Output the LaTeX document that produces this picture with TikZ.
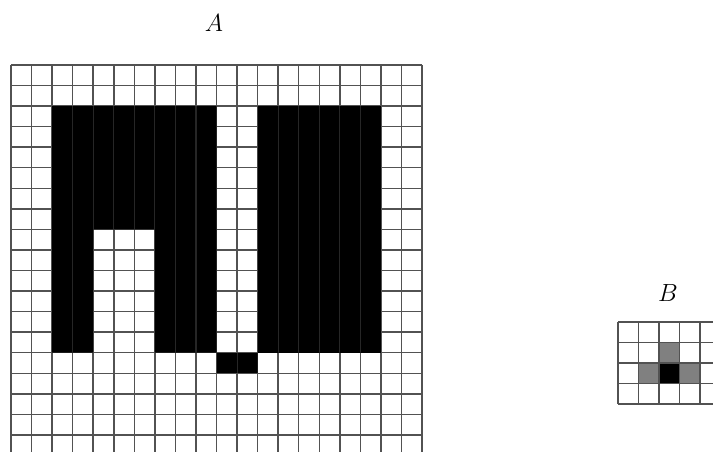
\documentclass[tikz,border=0pt]{standalone}
\begin{document}
\begin{tikzpicture}[x=1bp,y=-1bp,
  gridline/.style={line width=1.5bp, draw=black!68},
  faintline/.style={line width=1.1bp, draw=black!85},
  blackcell/.style={fill=black},
  graycell/.style={fill=black!50},
  lbl/.style={inner sep=0pt, font=\fontsize{25}{29}\selectfont}]
\useasboundingbox (0,0) rectangle (713,452);
\clip (0,0) rectangle (713,452);
\fill[white] (0,0) rectangle (713,452);
% ---------- grid A ----------
\begin{scope}[shift={(11,65)}, x=20.55bp, y=-20.55bp]
  \foreach \r in {0,...,19} \draw[gridline] (0,\r) -- (20,\r);
  \foreach \c in {0,...,20} \draw[gridline] (\c,0) -- (\c,19);
  \fill[blackcell] (2,2) -- (10,2) -- (10,14) -- (7,14) -- (7,8) -- (4,8) -- (4,14) -- (2,14) -- cycle;
  \fill[blackcell] (12,2) rectangle (18,14);
  \fill[blackcell] (10,14) rectangle (12,15);
  \begin{scope}
    \clip (2,2) -- (10,2) -- (10,14) -- (7,14) -- (7,8) -- (4,8) -- (4,14) -- (2,14) -- cycle
          (12,2) rectangle (18,14) (10,14) rectangle (12,15);
    \foreach \c in {3,...,17} \draw[faintline] (\c,2) -- (\c,15);
  \end{scope}
\end{scope}
% ---------- grid B ----------
\begin{scope}[shift={(618,322)}, x=20.5bp, y=-20.5bp]
  \fill[graycell] (2,1) rectangle (3,2);
  \fill[graycell] (1,2) rectangle (2,3);
  \fill[graycell] (3,2) rectangle (4,3);
  \fill[blackcell] (2,2) rectangle (3,3);
  \foreach \r in {0,...,4} \draw[gridline] (0,\r) -- (5,\r);
  \foreach \c in {0,...,5} \draw[gridline] (\c,0) -- (\c,4);
\end{scope}
% ---------- labels ----------
\node[lbl] (labA) at (214,23) {$A$};
\node[lbl] (labB) at (668,293) {$B$};
\end{tikzpicture}
\end{document}
